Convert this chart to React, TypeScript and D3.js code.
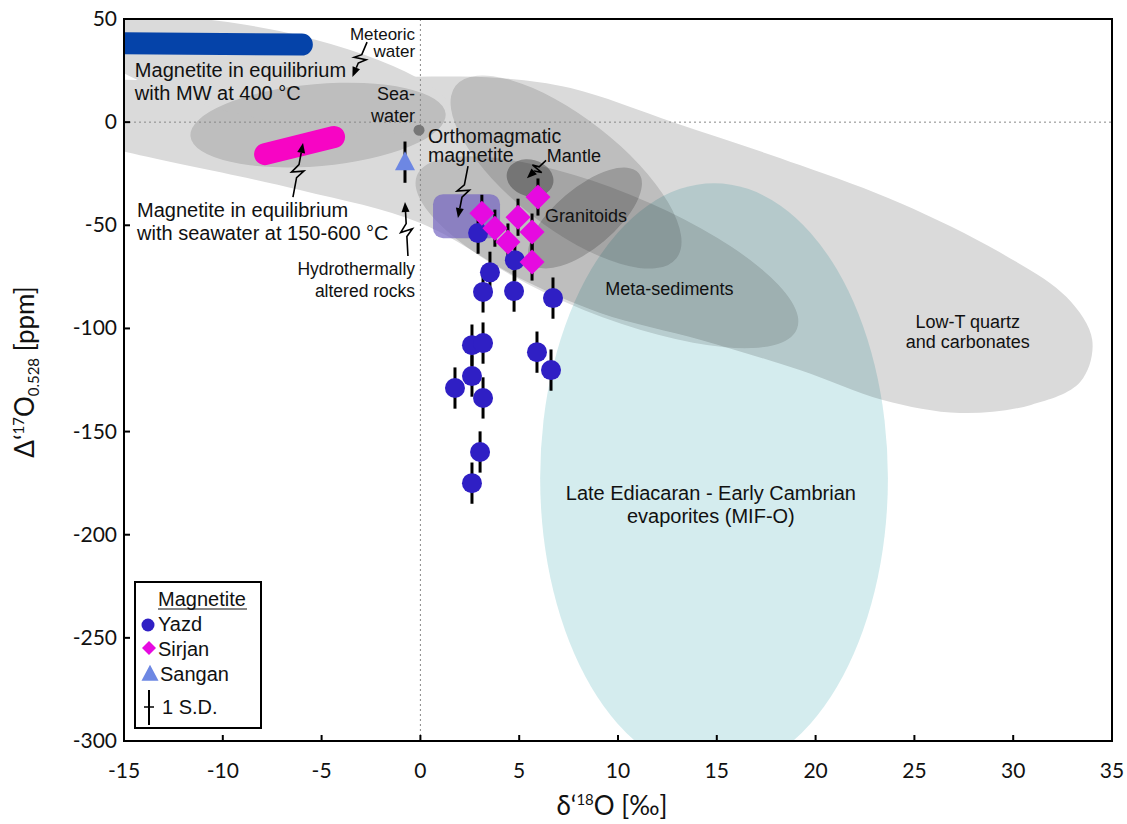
import React from "react";
import * as d3 from "d3";

const W = 1127;
const H = 824;

// axis ticks
const xTicks = [-15, -10, -5, 0, 5, 10, 15, 20, 25, 30, 35];
const yTicks = [50, 0, -50, -100, -150, -200, -250, -300];

// Yazd magnetite (d18O, D'17O, 1 SD)
const yazdD18O = [2.92, 3.52, 3.17, 4.78, 4.74, 6.71, 2.61, 3.17, 5.9, 6.61, 1.75, 2.61, 3.17, 3.02, 2.61];
const yazdD17O = [-53.8, -72.8, -82.3, -66.9, -81.9, -85.3, -108.1, -107.1, -111.5, -120.2, -128.9, -123.1, -133.7, -159.9, -175.0];
const yazdSD = [10, 10, 10, 10, 10, 10, 10, 10, 10, 10, 10, 10, 10, 10, 10];

// Sirjan magnetite
const sirjanD18O = [3.11, 3.77, 4.94, 5.65, 4.43, 5.65, 5.95];
const sirjanD17O = [-44.2, -51.4, -46.1, -53.3, -58.1, -67.8, -36.3];
const sirjanSD = [9, 9, 9, 9, 9, 9, 9];

// Sangan magnetite
const sanganD18O = [-0.78];
const sanganD17O = [-19.4];
const sanganSD = [10];

// seawater reference point
const seawaterPoint = [-0.07, -3.9];

// equilibrium magnetite trends
const mwLine = [[-16, 38.3], [-6.0, 37.6]];
const swLine = [[-7.86, -15.5], [-4.37, -7.2]];

// light grey fields drawn as outlines
const lowTOutline = [
  [-18.3, 15.6], [-11.2, 20.4], [-2.0, 21.9], [4.0, 21.4], [7.6, 16.5],
  [12.9, -0.4], [19.2, -20.8], [24.3, -39.3], [29.3, -63.0], [32.7, -84.8],
  [34.0, -105.6], [33.4, -125.9], [30.9, -137.1], [27.3, -141.0], [23.4, -134.7],
  [19.2, -120.2], [14.2, -105.6], [9.1, -92.5], [5.0, -75.6], [0.0, -48.9],
  [-6.1, -32.9], [-14.9, -14.5], [-19.3, -3.8],
];

// elliptical fields: centre, semi-axes (x units, y units), tilt
const fieldNames = ["meteoric", "seawater", "magmatic", "metaSed", "granitoids", "mantle"];
const fieldCx = [-7.61, -5.18, 7.37, 9.44, 8.33, 5.55];
const fieldCy = [22.8, -1.4, -24.2, -63.1, -46.5, -27.1];
const fieldRx = [9.36, 6.48, 7.09, 10.37, 3.54, 1.2];
const fieldRy = [21.8, 19.9, 26.7, 30.1, 14.5, 8.9];
const fieldTilt = [12, -5, 38, 22, -40, 15];

// evaporite field
const evapCx = 14.86;
const evapCy = -172.6;
const evapRx = 8.8;
const evapRy = 143;

// orthomagmatic magnetite box
const orthoX = [0.64, 4.03];
const orthoY = [-34.9, -56.3];

// annotation arrows: [startX, startY, endX, endY]
const arrows = [
  [-2.7, 38.8, -3.44, 21.9],
  [-6.45, -36.3, -5.94, -10.1],
  [-0.63, -64.9, -0.78, -38.7],
  [2.41, -21.3, 1.9, -46.5],
  [6.36, -18.5, 5.39, -27.2],
];

const fieldFill: Record<string, string> = {
  meteoric: "#dadada",
  seawater: "#dedede",
  magmatic: "#dedede",
  metaSed: "#dedede",
  granitoids: "#d0d0d0",
  mantle: "#b4b4b4",
};

const x = d3.scaleLinear().domain([-15, 35]).range([124, 1112]);
const y = d3.scaleLinear().domain([-300, 50]).range([741, 19]);
const kx = x(1) - x(0);
const ky = y(0) - y(1);

const annFont = "'Liberation Sans', Arial, Helvetica, sans-serif";
const axisFont = "Lato, 'Open Sans', sans-serif";

function bolt(a: number[]) {
  const sx = x(a[0]), sy = y(a[1]), ex = x(a[2]), ey = y(a[3]);
  const dx = ex - sx, dy = ey - sy;
  const L = Math.hypot(dx, dy);
  const ux = dx / L, uy = dy / L;
  const nx = -uy, ny = ux;
  const w = 6;
  const head = 10;
  const p = (t: number, o: number): [number, number] => [sx + dx * t + nx * o, sy + dy * t + ny * o];
  const pts = [p(0, 0), p(0.36, 0), p(0.5, w), p(0.44, -w), p(0.6, 0), [ex - ux * head, ey - uy * head] as [number, number]];
  const line = d3.line()(pts) || "";
  const hb = [ex - ux * head, ey - uy * head];
  const tri = `M${ex},${ey}L${hb[0] + nx * 4},${hb[1] + ny * 4}L${hb[0] - nx * 4},${hb[1] - ny * 4}Z`;
  return { line, tri };
}

function ErrorBars({ xs, ys, sd }: { xs: number[]; ys: number[]; sd: number[] }) {
  return (
    <g>
      {xs.map((v, i) => (
        <line key={i} x1={x(v)} x2={x(v)} y1={y(ys[i] + sd[i])} y2={y(ys[i] - sd[i])} stroke="#000" strokeWidth={3} />
      ))}
    </g>
  );
}

export default function App() {
  const lowTPath = d3
    .line()
    .x((d) => x(d[0]))
    .y((d) => y(d[1]))
    .curve(d3.curveCatmullRomClosed.alpha(0.5))(lowTOutline as [number, number][]) || "";

  const tri = (cx: number, cy: number, s: number) =>
    `M${cx},${cy - s * 0.55}L${cx + s / 2},${cy + s * 0.4}L${cx - s / 2},${cy + s * 0.4}Z`;
  const diamond = (cx: number, cy: number, r: number) =>
    `M${cx},${cy - r}L${cx + r},${cy}L${cx},${cy + r}L${cx - r},${cy}Z`;

  const ellipse = (i: number) => {
    const cx = x(fieldCx[i]);
    const cy = y(fieldCy[i]);
    return (
      <ellipse
        key={fieldNames[i]}
        cx={cx}
        cy={cy}
        rx={fieldRx[i] * kx}
        ry={fieldRy[i] * ky}
        transform={`rotate(${fieldTilt[i]},${cx},${cy})`}
        fill={fieldFill[fieldNames[i]]}
        style={i === 0 ? undefined : { mixBlendMode: "multiply" }}
      />
    );
  };

  return (
    <svg width={W} height={H} style={{ position: "absolute", left: 0, top: 0, background: "#fff" }}>
      <defs>
        <clipPath id="plot">
          <rect x={x(-15)} y={y(50)} width={x(35) - x(-15)} height={y(-300) - y(50)} />
        </clipPath>
      </defs>
      <rect width={W} height={H} fill="#fff" />

      <g clipPath="url(#plot)">
        {/* light grey fields */}
        <path d={lowTPath} fill="#dadada" />
        {ellipse(0)}
        {/* medium / dark fields */}
        {[1, 2, 3, 4, 5].map((i) => ellipse(i))}
        {/* evaporites */}
        <ellipse
          cx={x(evapCx)}
          cy={y(evapCy)}
          rx={evapRx * kx}
          ry={evapRy * ky}
          fill="#d4ecee"
          style={{ mixBlendMode: "multiply" }}
        />
        {/* orthomagmatic box */}
        <rect
          x={x(orthoX[0])}
          y={y(orthoY[0])}
          width={x(orthoX[1]) - x(orthoX[0])}
          height={y(orthoY[1]) - y(orthoY[0])}
          rx={10}
          fill="#7565c2"
          opacity={0.7}
        />
        {/* equilibrium trends */}
        <line
          x1={x(mwLine[0][0])}
          y1={y(mwLine[0][1])}
          x2={x(mwLine[1][0])}
          y2={y(mwLine[1][1])}
          stroke="#0543a9"
          strokeWidth={22}
          strokeLinecap="round"
        />
        <line
          x1={x(swLine[0][0])}
          y1={y(swLine[0][1])}
          x2={x(swLine[1][0])}
          y2={y(swLine[1][1])}
          stroke="#f705c4"
          strokeWidth={22}
          strokeLinecap="round"
        />
        {/* zero lines */}
        <line x1={x(0)} x2={x(0)} y1={y(50)} y2={y(-300)} stroke="#888" strokeWidth={1} strokeDasharray="2,3" />
        <line x1={x(-15)} x2={x(35)} y1={y(0)} y2={y(0)} stroke="#888" strokeWidth={1} strokeDasharray="2,3" />
      </g>

      {/* seawater point */}
      <circle cx={x(seawaterPoint[0])} cy={y(seawaterPoint[1])} r={5.5} fill="#777" />

      {/* error bars */}
      <ErrorBars xs={yazdD18O} ys={yazdD17O} sd={yazdSD} />
      <ErrorBars xs={sirjanD18O} ys={sirjanD17O} sd={sirjanSD} />
      <ErrorBars xs={sanganD18O} ys={sanganD17O} sd={sanganSD} />

      {/* markers */}
      {yazdD18O.map((v, i) => (
        <circle key={"y" + i} cx={x(v)} cy={y(yazdD17O[i])} r={10} fill="#2f1fc4" />
      ))}
      {sirjanD18O.map((v, i) => (
        <path key={"s" + i} d={diamond(x(v), y(sirjanD17O[i]), 12.5)} fill="#e60ae0" />
      ))}
      {sanganD18O.map((v, i) => (
        <path key={"g" + i} d={tri(x(v), y(sanganD17O[i]), 20)} fill="#6d87e3" />
      ))}

      {/* arrows */}
      {arrows.map((a, i) => {
        const b = bolt(a);
        return (
          <g key={"a" + i}>
            <path d={b.line} fill="none" stroke="#000" strokeWidth={1.6} />
            <path d={b.tri} fill="#000" />
          </g>
        );
      })}

      {/* annotations */}
      <g fontFamily={annFont} fill="#111">
        <text x={x(-0.27)} y={y(39.8)} fontSize={17} textAnchor="end">Meteoric</text>
        <text x={x(-0.27)} y={y(31.6)} fontSize={17} textAnchor="end">water</text>
        <text x={x(-14.45)} y={y(21.9)} fontSize={20}>Magnetite in equilibrium</text>
        <text x={x(-14.45)} y={y(10.7)} fontSize={20}>with MW at 400 °C</text>
        <text x={x(-0.27)} y={y(10.7)} fontSize={18} textAnchor="end">Sea-</text>
        <text x={x(-0.27)} y={y(0.05)} fontSize={18} textAnchor="end">water</text>
        <text x={x(0.38)} y={y(-9.9)} fontSize={19.5}>Orthomagmatic</text>
        <text x={x(0.38)} y={y(-19.5)} fontSize={19.5}>magnetite</text>
        <text x={x(6.4)} y={y(-19.3)} fontSize={18}>Mantle</text>
        <text x={x(6.3)} y={y(-48.2)} fontSize={18}>Granitoids</text>
        <text x={x(9.36)} y={y(-83.8)} fontSize={18}>Meta-sediments</text>
        <text x={x(27.7)} y={y(-99.8)} fontSize={18} textAnchor="middle">Low-T quartz</text>
        <text x={x(27.7)} y={y(-109.5)} fontSize={18} textAnchor="middle">and carbonates</text>
        <text x={x(14.7)} y={y(-183.2)} fontSize={20} textAnchor="middle">Late Ediacaran - Early Cambrian</text>
        <text x={x(14.7)} y={y(-194.3)} fontSize={20} textAnchor="middle">evaporites (MIF-O)</text>
        <text x={x(-14.34)} y={y(-46.0)} fontSize={20}>Magnetite in equilibrium</text>
        <text x={x(-14.34)} y={y(-57.1)} fontSize={20}>with seawater at 150-600 °C</text>
        <text x={x(-0.27)} y={y(-74.2)} fontSize={17.5} textAnchor="end">Hydrothermally</text>
        <text x={x(-0.27)} y={y(-84.9)} fontSize={17.5} textAnchor="end">altered rocks</text>
      </g>

      {/* axes frame */}
      <rect x={x(-15)} y={y(50)} width={x(35) - x(-15)} height={y(-300) - y(50)} fill="none" stroke="#000" strokeWidth={2} />
      {xTicks.map((t) => (
        <g key={"xt" + t}>
          <line x1={x(t)} x2={x(t)} y1={y(-300)} y2={y(-300) - 6} stroke="#000" strokeWidth={2} />
          <text x={x(t)} y={778} fontFamily={axisFont} fontSize={21} textAnchor="middle" fill="#111">
            {t}
          </text>
        </g>
      ))}
      {yTicks.map((t) => (
        <g key={"yt" + t}>
          <line x1={x(-15)} x2={x(-15) + 6} y1={y(t)} y2={y(t)} stroke="#000" strokeWidth={2} />
          <text x={117} y={y(t) + 7} fontFamily={axisFont} fontSize={21} textAnchor="end" fill="#111">
            {t}
          </text>
        </g>
      ))}

      {/* axis titles */}
      <text x={612} y={815} fontFamily={axisFont} fontSize={26} textAnchor="middle" fill="#111">
        δ‘<tspan fontSize={15} dy={-10}>18</tspan>
        <tspan dy={10}>O [‰]</tspan>
      </text>
      <text transform="translate(34,372) rotate(-90)" fontFamily={axisFont} fontSize={26} textAnchor="middle" fill="#111">
        Δ‘<tspan fontSize={15} dy={-10}>17</tspan>
        <tspan dy={10}>O</tspan>
        <tspan fontSize={15} dy={5}>0.528</tspan>
        <tspan dy={-5}> [ppm]</tspan>
      </text>

      {/* legend */}
      <g fontFamily={annFont} fill="#111">
        <rect x={135} y={582} width={126} height={146} fill="#fff" stroke="#000" strokeWidth={2} />
        <text x={202} y={606} fontSize={20} textAnchor="middle">Magnetite</text>
        <line x1={158} x2={247} y1={609} y2={609} stroke="#111" strokeWidth={1.2} />
        <circle cx={148} cy={625} r={6.5} fill="#2f1fc4" />
        <text x={158} y={631} fontSize={20}>Yazd</text>
        <path d={diamond(149, 648, 7)} fill="#e60ae0" />
        <text x={158} y={656} fontSize={20}>Sirjan</text>
        <path d={tri(150, 674, 17)} fill="#6d87e3" />
        <text x={160} y={681} fontSize={20}>Sangan</text>
        <line x1={149} x2={149} y1={690} y2={725} stroke="#000" strokeWidth={2} />
        <line x1={144} x2={154} y1={707} y2={707} stroke="#000" strokeWidth={1.5} />
        <text x={162} y={714} fontSize={20}>1 S.D.</text>
      </g>
    </svg>
  );
}
